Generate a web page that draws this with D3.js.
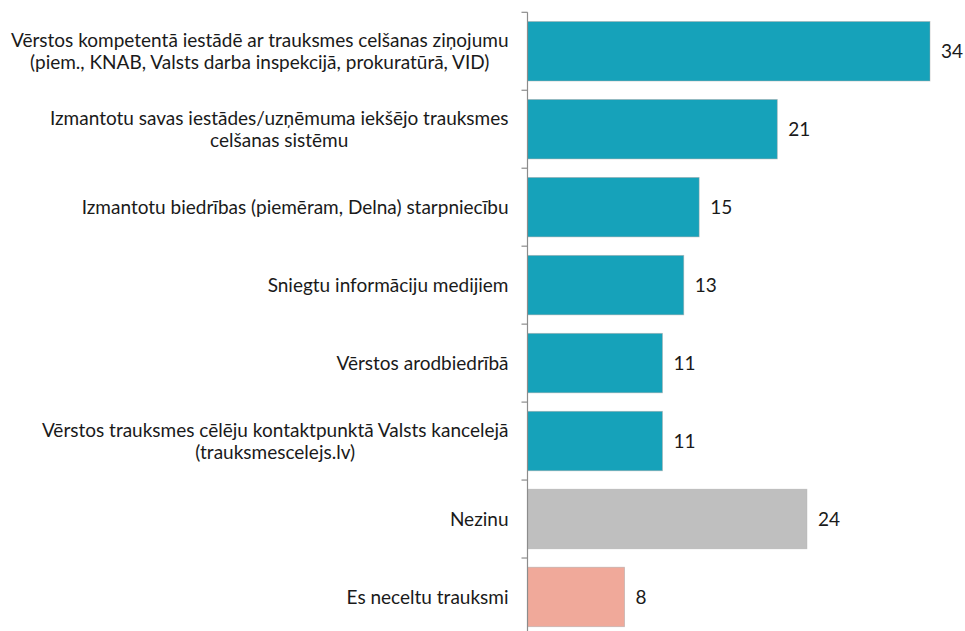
<!DOCTYPE html>
<html>
<head>
<meta charset="utf-8">
<script src="https://cdn.jsdelivr.net/npm/d3@7"></script>
<style>
  body { margin: 0; background: #fff; }
  text { font-family: Lato, "Open Sans", sans-serif; fill: #1a1a1a; }
</style>
</head>
<body>
<div id="chart"></div>
<script>
var svgWidth = 965;
var svgHeight = 631;

// answers, line breaks as in the original labels
var categories = [
  "Vērstos kompetentā iestādē ar trauksmes celšanas ziņojumu\n(piem., KNAB, Valsts darba inspekcijā, prokuratūrā, VID)",
  "Izmantotu savas iestādes/uzņēmuma iekšējo trauksmes\ncelšanas sistēmu",
  "Izmantotu biedrības (piemēram, Delna) starpniecību",
  "Sniegtu informāciju medijiem",
  "Vērstos arodbiedrībā",
  "Vērstos trauksmes cēlēju kontaktpunktā Valsts kancelejā\n(trauksmescelejs.lv)",
  "Nezinu",
  "Es neceltu trauksmi"
];
// percentages (labels shown rounded)
var values = [34.0, 21.1, 14.5, 13.2, 11.4, 11.4, 23.6, 8.2];
var barColors = ["#16a2ba", "#16a2ba", "#16a2ba", "#16a2ba", "#16a2ba", "#16a2ba", "#bfbfbf", "#f0a99a"];

var margin = { top: 12.3, left: 527.5 };
var plotWidth = 402.5;
var plotHeight = 623.6;

var svg = d3.select("#chart")
  .append("svg")
  .attr("width", svgWidth)
  .attr("height", svgHeight);

var chartGroup = svg.append("g")
  .attr("transform", `translate(${margin.left}, ${margin.top})`);

var xScale = d3.scaleLinear()
  .domain([0, 34])
  .range([0, plotWidth]);

var yScale = d3.scaleBand()
  .domain(d3.range(categories.length))
  .range([0, plotHeight])
  .paddingInner(0.237)
  .paddingOuter(0.118);

// bars
chartGroup.selectAll("rect.bar")
  .data(values)
  .enter()
  .append("rect")
  .attr("class", "bar")
  .attr("x", 0)
  .attr("y", (d, i) => yScale(i))
  .attr("width", d => xScale(d))
  .attr("height", yScale.bandwidth())
  .attr("fill", (d, i) => barColors[i])
  .attr("stroke", "#a9a9a9")
  .attr("stroke-opacity", 0.6)
  .attr("stroke-width", 0.8);

// category axis: line plus ticks between categories
var step = yScale.step();
chartGroup.append("line")
  .attr("x1", 0).attr("x2", 0)
  .attr("y1", 0).attr("y2", plotHeight)
  .attr("stroke", "#8c8c8c")
  .attr("stroke-width", 1.2);

chartGroup.selectAll("line.tick")
  .data(d3.range(categories.length + 1))
  .enter()
  .append("line")
  .attr("class", "tick")
  .attr("x1", -6).attr("x2", 0)
  .attr("y1", i => i * step)
  .attr("y2", i => i * step)
  .attr("stroke", "#8c8c8c")
  .attr("stroke-width", 1.2);

// value labels
chartGroup.selectAll("text.value")
  .data(values)
  .enter()
  .append("text")
  .attr("class", "value")
  .attr("x", d => xScale(d) + 11)
  .attr("y", (d, i) => yScale(i) + yScale.bandwidth() / 2)
  .attr("dy", "0.35em")
  .attr("font-size", "19px")
  .text(d => Math.round(d));

// category labels: block right aligned, lines centred inside block
var labelRight = -19;
var lineHeight = 22;
categories.forEach(function(cat, i) {
  var lines = cat.split("\n");
  var cy = yScale(i) + yScale.bandwidth() / 2;
  var g = chartGroup.append("g");
  var texts = lines.map(function(line, j) {
    return g.append("text")
      .attr("font-size", "19px")
      .attr("text-anchor", "middle")
      .attr("y", cy + (j - (lines.length - 1) / 2) * lineHeight)
      .attr("dy", "0.35em")
      .text(line);
  });
  var maxW = d3.max(texts, t => t.node().getComputedTextLength());
  texts.forEach(t => t.attr("x", labelRight - maxW / 2));
});
</script>
</body>
</html>
